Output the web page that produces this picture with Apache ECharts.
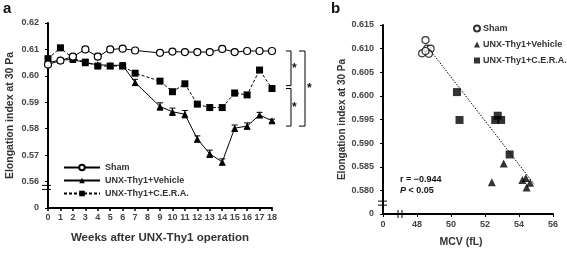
<!DOCTYPE html>
<html>
<head>
<meta charset="utf-8">
<script src="https://cdn.jsdelivr.net/npm/echarts@6/dist/echarts.min.js"></script>
<style>html,body{margin:0;padding:0;background:#fff}</style>
</head>
<body>
<div id="chart" style="width:567px;height:253px"></div>
<script>
// panel a: weeks after operation (week 8 not measured)
const weeks = ['0','1','2','3','4','5','6','7','8','9','10','11','12','13','14','15','16','17','18'];
const sham    = [0.6043,0.6058,0.6073,0.6100,0.6073,0.6100,0.6103,0.6096,null,0.6087,0.6092,0.6090,0.6090,0.6090,0.6102,0.6090,0.6094,0.6094,0.6094];
const vehicle = [0.6050,0.6060,0.6062,0.6050,0.6042,0.6040,0.6040,0.5975,null,0.5884,0.5864,0.5855,0.5761,0.5705,0.5674,0.5802,0.5810,0.5852,0.5830];
const cera    = [0.6065,0.6106,0.6066,0.6052,0.6037,0.6037,0.6037,0.6010,null,0.5980,0.5940,0.5970,0.5893,0.5880,0.5880,0.5935,0.5928,0.6022,0.5952];
const shamErr    = [0,0,0,0,0.0012,0,0,0,null,0,0,0,0,0,0.0008,0,0,0,0];
const vehicleErr = [0,0,0,0,0,0,0.0010,0.0012,null,0.0014,0.0014,0.0014,0.0012,0.0014,0.0012,0.0012,0.0012,0.0010,0.0006];
const ceraErr    = [0,0,0,0,0,0,0,0,null,0,0,0,0,0.0010,0,0.0010,0,0,0];

// panel b: MCV (fL) vs elongation index
const bSham    = [[48.3,0.6090],[48.5,0.6118],[48.6,0.6100],[48.8,0.6100],[48.7,0.6089],[48.5,0.6095]];
const bVehicle = [[53.1,0.5857],[52.4,0.5817],[54.2,0.5822],[54.4,0.5826],[54.65,0.5816],[54.45,0.5806]];
const bCera    = [[50.35,0.6008],[50.5,0.5949],[52.6,0.5949],[52.75,0.5958],[52.95,0.5949],[53.45,0.5876]];
const fitLine  = [[48.7,0.6100],[54.9,0.5813]];

const font = 'Liberation Sans, Arial, sans-serif';
const chart = echarts.init(document.getElementById('chart'));

function errSeries(vals, errs) {
  const data = [];
  vals.forEach((v, i) => { if (v != null && errs[i]) data.push([i, v - errs[i], v + errs[i]]); });
  return {
    type: 'custom', xAxisIndex: 0, yAxisIndex: 0, silent: true, z: 1,
    encode: {x: 0, y: [1, 2]},
    data: data,
    renderItem: (params, api) => {
      const lo = api.coord([api.value(0), api.value(1)]);
      const hi = api.coord([api.value(0), api.value(2)]);
      const s = {stroke: '#000', lineWidth: 1};
      return {type: 'group', children: [
        {type: 'line', shape: {x1: lo[0], y1: lo[1], x2: hi[0], y2: hi[1]}, style: s},
        {type: 'line', shape: {x1: lo[0]-3, y1: lo[1], x2: lo[0]+3, y2: lo[1]}, style: s},
        {type: 'line', shape: {x1: hi[0]-3, y1: hi[1], x2: hi[0]+3, y2: hi[1]}, style: s}
      ]};
    }
  };
}

const labelStyle = {color: '#444', fontSize: 9, fontWeight: 'bold', fontFamily: font};
const nameStyle = {color: '#333', fontSize: 11.5, fontWeight: 'bold', fontFamily: font};
const axisLine = {show: true, lineStyle: {color: '#000', width: 2}};

chart.setOption({
  animation: false,
  grid: [
    {left: 48, right: 295, top: 23, bottom: 45},
    {left: 383, right: 14, top: 25, bottom: 35}
  ],
  legend: [
    {
      data: ['Sham', 'UNX-Thy1+Vehicle', 'UNX-Thy1+C.E.R.A.'],
      orient: 'vertical', left: 58, top: 158, itemGap: 4, itemWidth: 36, itemHeight: 7,
      textStyle: {color: '#333', fontSize: 9, fontWeight: 'bold', fontFamily: font}
    },
    {
      data: ['b-Sham', 'b-UNX-Thy1+Vehicle', 'b-UNX-Thy1+C.E.R.A.'],
      formatter: n => n.slice(2),
      orient: 'vertical', left: 468, top: 19, itemGap: 7, itemWidth: 6, itemHeight: 6,
      textStyle: {color: '#333', fontSize: 9, fontWeight: 'bold', fontFamily: font, padding: [0, 0, 0, -2]}
    }
  ],
  xAxis: [
    {
      gridIndex: 0, type: 'category', data: weeks, boundaryGap: false,
      axisLine: axisLine, axisTick: {length: 3, lineStyle: {color: '#000', width: 1.5}},
      axisLabel: Object.assign({interval: 0, margin: 5}, labelStyle),
      name: 'Weeks after UNX-Thy1 operation', nameLocation: 'middle', nameGap: 24, nameTextStyle: nameStyle
    },
    {
      gridIndex: 1, type: 'value', min: 46, max: 56, interval: 2,
      axisLine: axisLine, axisTick: {length: 3, lineStyle: {color: '#000', width: 1}},
      splitLine: {show: false},
      axisLabel: Object.assign({margin: 6, formatter: v => v === 46 ? '0' : String(v)}, labelStyle),
      name: 'MCV (fL)', nameLocation: 'middle', nameGap: 23, nameTextStyle: Object.assign({}, nameStyle, {fontSize: 10.5, padding: [0, 14, 0, 0]})
    }
  ],
  yAxis: [
    {
      gridIndex: 0, type: 'value', min: 0.55, max: 0.62, interval: 0.01,
      axisLine: axisLine, axisTick: {show: true, length: 3, lineStyle: {color: '#000', width: 1}},
      splitLine: {show: false},
      axisLabel: Object.assign({margin: 9, formatter: v => v < 0.555 ? '0' : v.toFixed(2)}, labelStyle),
      name: 'Elongation index at 30 Pa', nameLocation: 'middle', nameGap: 32, nameTextStyle: Object.assign({}, nameStyle, {fontSize: 10.5})
    },
    {
      gridIndex: 1, type: 'value', min: 0.575, max: 0.615, interval: 0.005,
      axisLine: axisLine, axisTick: {show: true, length: 3, lineStyle: {color: '#000', width: 1}},
      splitLine: {show: false},
      axisLabel: Object.assign({margin: 9, formatter: v => v < 0.5775 ? '0' : v.toFixed(3)}, labelStyle),
      name: 'Elongation index at 30 Pa', nameLocation: 'middle', nameGap: 36, nameTextStyle: Object.assign({}, nameStyle, {fontSize: 10})
    }
  ],
  series: [
    errSeries(sham, shamErr),
    errSeries(vehicle, vehicleErr),
    errSeries(cera, ceraErr),
    {
      name: 'Sham', type: 'line', xAxisIndex: 0, yAxisIndex: 0, data: sham, connectNulls: true, z: 3,
      symbol: 'circle', symbolSize: 7,
      lineStyle: {color: '#000', width: 1},
      itemStyle: {color: '#fff', borderColor: '#000', borderWidth: 1.2}
    },
    {
      name: 'UNX-Thy1+Vehicle', type: 'line', xAxisIndex: 0, yAxisIndex: 0, data: vehicle, connectNulls: true, z: 2,
      symbol: 'triangle', symbolSize: 7,
      lineStyle: {color: '#000', width: 1},
      itemStyle: {color: '#000'}
    },
    {
      name: 'UNX-Thy1+C.E.R.A.', type: 'line', xAxisIndex: 0, yAxisIndex: 0, data: cera, connectNulls: true, z: 2,
      symbol: 'rect', symbolSize: 7,
      lineStyle: {color: '#000', width: 1, type: [3, 2]},
      itemStyle: {color: '#000'}
    },
    {
      type: 'line', xAxisIndex: 1, yAxisIndex: 1, data: fitLine, symbol: 'none', silent: true,
      lineStyle: {color: '#000', width: 1, type: [1.5, 1.5]}
    },
    {
      name: 'b-Sham', type: 'scatter', xAxisIndex: 1, yAxisIndex: 1, data: bSham,
      symbol: 'circle', symbolSize: 7,
      itemStyle: {color: '#fff', borderColor: '#000', borderWidth: 1.2}
    },
    {
      name: 'b-UNX-Thy1+Vehicle', type: 'scatter', xAxisIndex: 1, yAxisIndex: 1, data: bVehicle,
      symbol: 'triangle', symbolSize: 8, itemStyle: {color: '#000'}
    },
    {
      name: 'b-UNX-Thy1+C.E.R.A.', type: 'scatter', xAxisIndex: 1, yAxisIndex: 1, data: bCera,
      symbol: 'rect', symbolSize: 8, itemStyle: {color: '#000'}
    }
  ]
});

// annotations placed from axis coordinates
const pa = (x, y) => chart.convertToPixel({gridIndex: 0}, [x, y]);
const pb = (x, y) => chart.convertToPixel({gridIndex: 1}, [x, y]);
const ln = (x1, y1, x2, y2, w) => ({type: 'line', shape: {x1, y1, x2, y2}, style: {stroke: '#000', lineWidth: w || 1}});
const tx = (x, y, text, size, extra) => ({type: 'text', x, y, style: Object.assign({text, fill: '#111', font: 'bold ' + size + 'px ' + font}, extra || {})});

const aTop = pa(18, 0.6094)[1], aMid1 = pa(18, 0.5963)[1], aMid2 = pa(18, 0.5952)[1], aBot = pa(18, 0.5810)[1];
const xr = pa(18, 0.6)[0];
const bracket = (x0, x1, y0, y1) => ({type: 'polyline', shape: {points: [[x0, y0], [x1, y0], [x1, y1], [x0, y1]]}, style: {stroke: '#000', lineWidth: 1, fill: null}});

const ya = pa(0, 0.5578)[1], xa = pa(0, 0.6)[0] - 1;
const yb = pb(46, 0.5773)[1], xb = pb(46, 0.6)[0];
const yx = pb(47, 0.58)[0], ybx = pb(46, 0.575)[1];

chart.setOption({graphic: [
  tx(3, 1, 'a', 15),
  tx(331, 1, 'b', 15),
  bracket(xr + 14, xr + 19, aTop, aMid1),
  bracket(xr + 14, xr + 19, aMid2, aBot),
  bracket(xr + 27, xr + 33, aTop, aBot),
  tx(xr + 20, (aTop + aMid1) / 2 - 6, '*', 12),
  tx(xr + 20, (aMid2 + aBot) / 2 - 6, '*', 12),
  tx(xr + 35, (aTop + aBot) / 2 - 6, '*', 12),
  // y axis break, panel a
  {type: 'rect', shape: {x: xa - 5, y: ya - 2, width: 10, height: 4}, style: {fill: '#fff'}},
  ln(xa - 5, ya - 2, xa + 4, ya - 2), ln(xa - 5, ya + 2, xa + 4, ya + 2),
  // y axis break, panel b
  {type: 'rect', shape: {x: xb - 5, y: yb - 2, width: 10, height: 4}, style: {fill: '#fff'}},
  ln(xb - 5, yb - 2, xb + 4, yb - 2), ln(xb - 5, yb + 2, xb + 4, yb + 2),
  // x axis break, panel b
  {type: 'rect', shape: {x: yx - 2, y: ybx - 4, width: 4, height: 8}, style: {fill: '#fff'}},
  ln(yx - 2, ybx - 4, yx - 2, ybx + 4), ln(yx + 2, ybx - 4, yx + 2, ybx + 4),
  tx(pb(47.0, 0.58)[0], pb(47.0, 0.5832)[1], 'r = \u22120.944', 9),
  {type: 'text', x: pb(47.0, 0.58)[0], y: pb(47.0, 0.5832)[1] + 11, style: {
    text: '{i|P} < 0.05', fill: '#111', font: 'bold 9px ' + font,
    rich: {i: {fontStyle: 'italic', fontWeight: 'bold', fontSize: 9, fontFamily: font, fill: '#111'}}}}
]});
</script>
</body>
</html>
